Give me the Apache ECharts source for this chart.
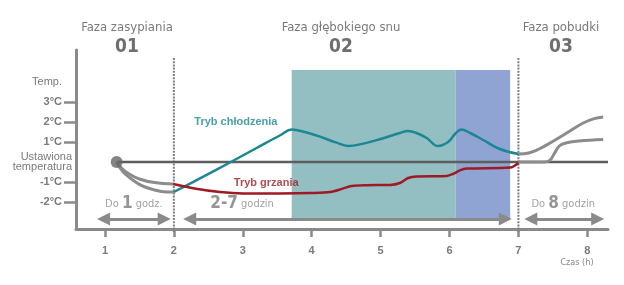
<!DOCTYPE html>
<html><head><meta charset="utf-8">
<script src="https://cdn.jsdelivr.net/npm/echarts@6/dist/echarts.min.js"></script>
<style>html,body{margin:0;padding:0;background:#fff}#c{width:624px;height:285px}</style>
</head><body><div id="c"></div>
<script>
// ---- data ----
const xTicks = [1, 2, 3, 4, 5, 6, 7, 8];
const yLabelValues = [-2, -1, 0, 1, 2, 3, 4];
const yLabelTexts = ['-2°C', '-1°C', 'Ustawiona\ntemperatura', '1°C', '2°C', '3°C', 'Temp.'];
const yTickValues = [-2, -1, 1, 2, 3];

const coolingMode = [[2.0,-1.5],[2.4,-0.78],[2.8,-0.05],[3.2,0.7],[3.55,1.35],[3.71,1.62],[3.9,1.5],[4.12,1.27],[4.35,0.98],[4.53,0.8],[4.75,0.92],[5.0,1.15],[5.28,1.45],[5.4,1.55],[5.52,1.45],[5.67,1.2],[5.83,0.8],[5.98,1.0],[6.08,1.4],[6.17,1.62],[6.3,1.45],[6.49,1.1],[6.73,0.65],[7.0,0.4]];
const heatingMode = [[1.99,-1.1],[2.3,-1.32],[2.67,-1.5],[3.0,-1.57],[3.54,-1.57],[4.0,-1.55],[4.27,-1.5],[4.45,-1.33],[4.58,-1.2],[4.8,-1.16],[5.14,-1.15],[5.28,-1.05],[5.4,-0.8],[5.52,-0.72],[5.96,-0.7],[6.05,-0.6],[6.15,-0.42],[6.25,-0.33],[6.88,-0.28],[7.0,-0.05]];
const fallAsleepUpper = [[1.17,0],[1.24,-0.3],[1.33,-0.55],[1.5,-0.85],[1.72,-1.03],[1.99,-1.1]];
const fallAsleepLower = [[1.17,0],[1.22,-0.3],[1.3,-0.62],[1.5,-1.12],[1.72,-1.4],[1.9,-1.5],[2.0,-1.5]];
const wakeUpper = [[7.0,0.4],[7.15,0.45],[7.3,0.65],[7.46,0.95],[7.7,1.45],[7.94,1.95],[8.1,2.17],[8.23,2.25]];
const wakeLower = [[7.0,0.0],[7.38,0.0],[7.46,0.1],[7.53,0.48],[7.6,0.82],[7.7,0.96],[7.88,1.05],[8.23,1.12]];
const setpointLine = [[1.17,0],[8.3,0]];
const startPoint = [[1.17,0]];

const phaseBoundaries = [2, 7];
const deepSleepBand = [3.71, 6.09];
const lateSleepBand = [6.09, 6.88];
const bandTop = 4.6, bandBottom = -2.8;
const durationSpans = [[0.98, 1.86], [2.23, 6.81], [7.18, 8.15]];
const durationY = -2.85;
const durationLabels = [
  ['Do ', '1', ' godz.'],
  ['', '2-7', ' godzin'],
  ['Do ', '8', ' godzin']
];
const durationLabelPos = [[1.42, -2.1], [2.99, -2.1], [7.65, -2.1]];
const modeLabels = ['Tryb chłodzenia', 'Tryb grzania'];
const modeLabelPos = [[2.9, 2.0], [3.34, -1.05]];
const phaseTitles = ['Faza zasypiania', 'Faza głębokiego snu', 'Faza pobudki'];
const phaseNumbers = ['01', '02', '03'];

// ---- styles ----
const NARROW = '"DejaVu Sans Condensed","Liberation Sans Narrow",sans-serif';
const SANS = '"Liberation Sans",Arial,sans-serif';
const AX = '#8a8a8a';
const TEAL = '#1b8792';
const RED = '#9d1b25';
const GRAY = '#8c8c8c';

const phaseX = [127, 341, 561];
const graphics = [];
phaseTitles.forEach((t, i) => {
  graphics.push({type: 'text', x: phaseX[i], y: 28, style: {text: t, align: 'center', verticalAlign: 'middle', fill: '#7a7a7a', fontSize: 13, fontFamily: NARROW}});
  graphics.push({type: 'text', x: phaseX[i], y: 47, style: {text: phaseNumbers[i], align: 'center', verticalAlign: 'middle', fill: '#6e6e6e', fontSize: 19, fontWeight: 'bold', fontFamily: NARROW}});
});
graphics.push({type: 'text', x: 577, y: 263, style: {text: 'Czas (h)', align: 'center', verticalAlign: 'middle', fill: '#8a8a8a', fontSize: 9, fontFamily: NARROW}});

const lineS = (data, color, width, smooth) => ({
  type: 'line', data, showSymbol: false, smooth: smooth,
  lineStyle: {color, width}, z: 3, silent: true, animation: false
});

const series = [
  {
    type: 'line', data: [], z: 1, silent: true, animation: false,
    markArea: {
      silent: true,
      data: [
        [{xAxis: deepSleepBand[0], yAxis: bandTop, itemStyle: {color: '#93bfc2'}}, {xAxis: deepSleepBand[1], yAxis: bandBottom}],
        [{xAxis: lateSleepBand[0], yAxis: bandTop, itemStyle: {color: '#8fa4d3'}}, {xAxis: lateSleepBand[1], yAxis: bandBottom}]
      ]
    },
    markLine: {
      silent: true, symbol: ['triangle', 'triangle'], symbolSize: [13, 13],
      lineStyle: {color: AX, width: 3, type: 'solid'}, label: {show: false},
      data: durationSpans.map(s => [{coord: [s[0], durationY]}, {coord: [s[1], durationY]}])
    }
  },
  ...phaseBoundaries.map(b => ({
    type: 'line', data: [[b, 5.2], [b, -3.5]], showSymbol: false, clip: false, z: 2, silent: true, animation: false,
    lineStyle: {color: '#7d7d7d', width: 2, type: [2, 1.2]}
  })),
  lineS(setpointLine, '#5e5e5e', 2.5, false),
  lineS(fallAsleepUpper, GRAY, 3, 0.4),
  lineS(fallAsleepLower, GRAY, 3, 0.4),
  lineS(wakeUpper, GRAY, 3, 0.4),
  lineS(wakeLower, GRAY, 3, 0.4),
  lineS(coolingMode, TEAL, 2.5, 0.4),
  lineS(heatingMode, RED, 2.5, 0.3),
  {
    type: 'scatter', data: startPoint, symbolSize: 12, itemStyle: {color: '#666'}, z: 5, silent: true, animation: false
  },
  {
    type: 'scatter', symbolSize: 0, z: 6, silent: true, animation: false,
    data: durationLabelPos.map(p => ({value: p})),
    label: {
      show: true, position: 'inside',
      formatter: p => {
        const l = durationLabels[p.dataIndex];
        return (l[0] ? '{a|' + l[0] + '}' : '') + '{b|' + l[1] + '}{a|' + l[2] + '}';
      },
      rich: {
        a: {fontSize: 11, fontFamily: NARROW, color: '#8a8a8a'},
        b: {fontSize: 17, fontWeight: 'bold', fontFamily: NARROW, color: '#7a7a7a'}
      }
    }
  },
  {
    type: 'scatter', symbolSize: 0, z: 6, silent: true, animation: false,
    data: modeLabelPos.map(p => ({value: p})),
    label: {
      show: true, position: 'inside',
      formatter: p => modeLabels[p.dataIndex],
      color: TEAL, fontFamily: SANS, fontWeight: 'bold', fontSize: 11
    }
  }
];
series[series.length - 1].data[1].label = {color: RED};

const chart = echarts.init(document.getElementById('c'), null, {renderer: 'canvas'});
chart.setOption({
  animation: false,
  backgroundColor: '#ffffff',
  grid: {left: 76, right: 16, top: 50, bottom: 56, containLabel: false},
  xAxis: {
    type: 'value', min: 0.58, max: 8.3,
    axisLine: {show: true, onZero: false, lineStyle: {color: AX, width: 3}},
    axisTick: {show: true, customValues: xTicks, length: 8, lineStyle: {color: AX, width: 2.5}},
    axisLabel: {customValues: xTicks, margin: 16, color: '#7a7a7a', fontFamily: SANS, fontWeight: 'bold', fontSize: 11},
    splitLine: {show: false}
  },
  yAxis: {
    type: 'value', min: -3.35, max: 5.6,
    axisLine: {show: true, onZero: false, lineStyle: {color: AX, width: 3}},
    axisTick: {show: true, customValues: yTickValues, length: 12, lineStyle: {color: AX, width: 2.5}},
    axisLabel: {
      customValues: yLabelValues, margin: 4,
      formatter: v => {
        const i = yLabelValues.indexOf(v);
        const t = i >= 0 ? yLabelTexts[i] : '';
        if (v === 0) return t.split('\n').map(s => '{u|' + s + '}').join('\n');
        if (v === 4) return '{t|' + t + '}';
        return '{n|' + t + '}';
      },
      rich: {
        n: {fontFamily: SANS, fontWeight: 'bold', fontSize: 11, color: '#7a7a7a', padding: [0, 10, 0, 0]},
        t: {fontFamily: SANS, fontSize: 11, color: '#7a7a7a', padding: [0, 10, 0, 0]},
        u: {fontFamily: SANS, fontSize: 11, color: '#7a7a7a', lineHeight: 10}
      }
    },
    splitLine: {show: false}
  },
  graphic: graphics,
  series
});
</script>
</body></html>
